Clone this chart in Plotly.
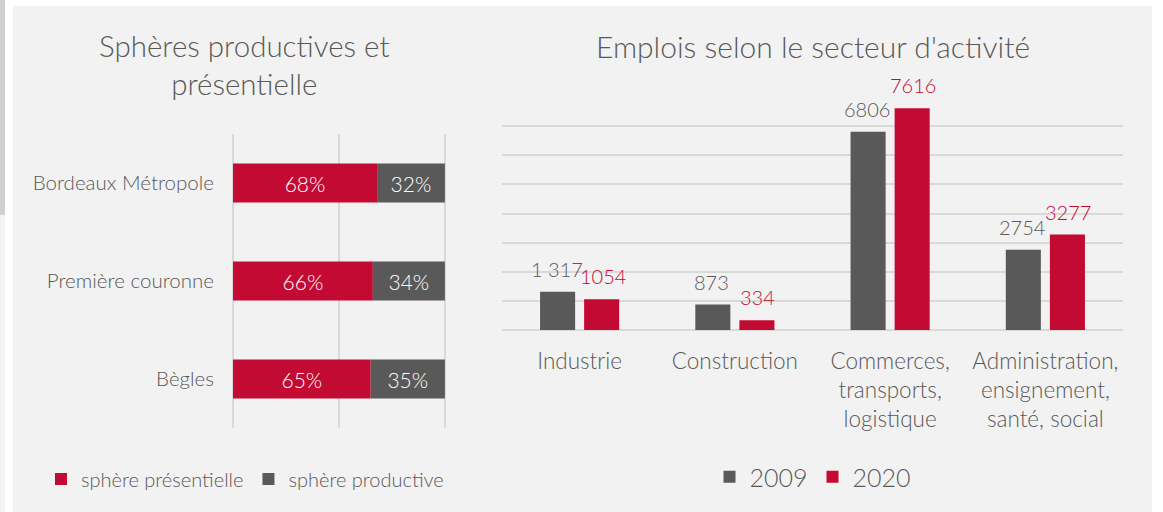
import plotly.graph_objects as go

# ---- Data: left chart (spheres) ----
territoires = ["Bordeaux Métropole", "Première couronne", "Bègles"]
presentielle = [0.68, 0.66, 0.65]
productive = [0.32, 0.34, 0.35]

# ---- Data: right chart (emplois) ----
secteurs = ["Industrie", "Construction", "Commerces,<br>transports,<br>logistique",
            "Administration,<br>ensignement,<br>santé, social"]
emplois_2009 = [1317, 873, 6806, 2754]
emplois_2020 = [1054, 334, 7616, 3277]
labels_2009 = ["1 317", "873", "6806", "2754"]
labels_2020 = ["1054", "334", "7616", "3277"]

RED = "#C30A33"
GRAY = "#595959"
TXT = "#595959"
GRID = "#D9D9D9"
FONT = "Lato Light, Lato"
W, H = 1163, 512

fig = go.Figure()

# Left: stacked horizontal bars
fig.add_trace(go.Bar(
    y=territoires, x=presentielle, orientation="h", name="sphère présentielle",
    marker=dict(color=RED, line=dict(width=0)), width=0.4,
    texttemplate="%{x:.0%}", textposition="inside", insidetextanchor="middle",
    textfont=dict(color="white", size=21, family=FONT, weight=300),
    xaxis="x", yaxis="y", legend="legend", hoverinfo="skip"))
fig.add_trace(go.Bar(
    y=territoires, x=productive, base=presentielle, orientation="h", name="sphère productive",
    marker=dict(color=GRAY, line=dict(width=0)), width=0.4,
    texttemplate="%{x:.0%}", textposition="inside", insidetextanchor="middle",
    textfont=dict(color="white", size=21, family=FONT, weight=300),
    xaxis="x", yaxis="y", legend="legend", hoverinfo="skip"))

# Right: grouped vertical bars
bw = 35 / 155
fig.add_trace(go.Bar(
    x=secteurs, y=emplois_2009, name="2009", marker=dict(color=GRAY, line=dict(width=0)),
    width=bw, offset=-39.5 / 155, xaxis="x2", yaxis="y2", legend="legend2", hoverinfo="skip"))
fig.add_trace(go.Bar(
    x=secteurs, y=emplois_2020, name="2020", marker=dict(color=RED, line=dict(width=0)),
    width=bw, offset=4.5 / 155, xaxis="x2", yaxis="y2", legend="legend2", hoverinfo="skip"))

annotations = []
for cat, v, t in zip(secteurs, emplois_2009, labels_2009):
    annotations.append(dict(x=cat, y=v, xref="x2", yref="y2", text=t, showarrow=False,
                            xshift=-23, yshift=23, yanchor="middle",
                            font=dict(color=TXT, size=20, family=FONT, weight=300)))
for cat, v, t in zip(secteurs, emplois_2020, labels_2020):
    annotations.append(dict(x=cat, y=v, xref="x2", yref="y2", text=t, showarrow=False,
                            xshift=23, yshift=23, yanchor="middle",
                            font=dict(color=RED, size=20, family=FONT, weight=300)))

# Titles
annotations.append(dict(x=244 / W, y=1 - 64 / H, xref="paper", yref="paper",
                        text="Sphères productives et<br>présentielle", showarrow=False,
                        xanchor="center", yanchor="middle",
                        font=dict(color=TXT, size=29.5, family=FONT, weight=300)))
annotations.append(dict(x=813 / W, y=1 - 46 / H, xref="paper", yref="paper",
                        text="Emplois selon le secteur d'activité", showarrow=False,
                        xanchor="center", yanchor="middle",
                        font=dict(color=TXT, size=30, family=FONT, weight=300)))

shapes = [
    dict(type="rect", xref="paper", yref="paper", x0=13 / W, x1=1152 / W, y0=0, y1=1 - 6 / H,
         fillcolor="#F2F2F2", line=dict(width=0), layer="below"),
    dict(type="rect", xref="paper", yref="paper", x0=0, x1=5 / W, y0=1 - 215 / H, y1=1,
         fillcolor="#CFCFCF", line=dict(width=0), layer="below"),
    dict(type="rect", xref="paper", yref="paper", x0=0, x1=5 / W, y0=0, y1=1 - 215 / H,
         fillcolor="#F4F4F4", line=dict(width=0), layer="below"),
]

fig.update_layout(
    width=W, height=H,
    margin=dict(l=0, r=0, t=0, b=0),
    paper_bgcolor="white", plot_bgcolor="rgba(0,0,0,0)",
    font=dict(family=FONT, color=TXT),
    barmode="overlay",
    showlegend=True,
    annotations=annotations, shapes=shapes,
    xaxis=dict(domain=[233 / W, 447 / W], range=[0, 1.01], dtick=0.5, tick0=0,
               showgrid=True, gridcolor=GRID, gridwidth=1.5, zeroline=True,
               zerolinecolor=GRID, zerolinewidth=1.5, showticklabels=False,
               showline=False, fixedrange=True),
    yaxis=dict(domain=[1 - 428 / H, 1 - 134 / H], range=[2.5, -0.5], type="category",
               showgrid=False, zeroline=False, showline=False, ticks="",
               tickfont=dict(size=20.5, color=TXT, family=FONT, weight=300),
               ticklabelstandoff=18, automargin=False, fixedrange=True),
    xaxis2=dict(domain=[502 / W, 1123 / W], anchor="y2", type="category",
                showgrid=False, zeroline=False, showline=False, ticks="",
                tickfont=dict(size=22.5, color=TXT, family=FONT, weight=300),
                ticklabelstandoff=15, automargin=False, fixedrange=True),
    yaxis2=dict(domain=[1 - 330 / H, 1 - 97 / H], anchor="x2", range=[0, 8000], dtick=1000,
                showgrid=True, gridcolor=GRID, gridwidth=2, zeroline=True,
                zerolinecolor=GRID, zerolinewidth=2, showticklabels=False,
                showline=False, automargin=False, fixedrange=True),
    legend=dict(orientation="h", x=245 / W, xanchor="center", y=1 - 479 / H, yanchor="middle",
                bgcolor="rgba(0,0,0,0)", font=dict(size=20, color=TXT, family=FONT, weight=300),
                itemclick=False, itemdoubleclick=False),
    legend2=dict(orientation="h", x=813 / W, xanchor="center", y=1 - 477 / H, yanchor="middle",
                 bgcolor="rgba(0,0,0,0)", font=dict(size=25, color=TXT, family=FONT, weight=300),
                 itemclick=False, itemdoubleclick=False),
)

fig.write_html("out.html", config={"displayModeBar": False},
               post_script="document.body.style.margin='0';document.body.style.overflow='hidden';")
